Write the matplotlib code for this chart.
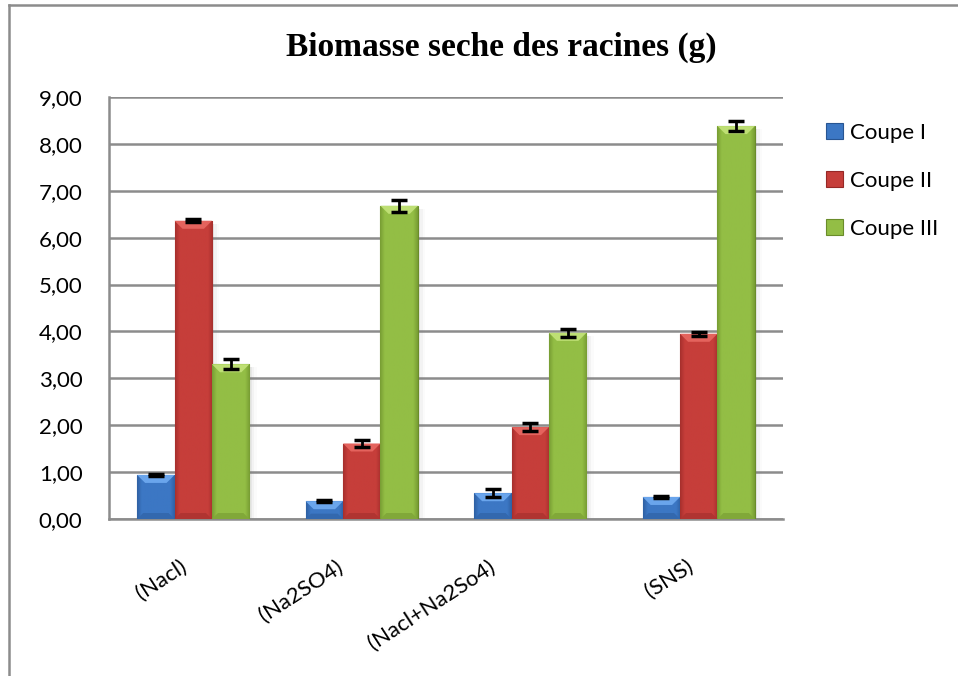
import numpy as np
import matplotlib
matplotlib.use("Agg")
import matplotlib.pyplot as plt
import matplotlib.transforms as mtransforms
from matplotlib.patches import Patch, Polygon
from matplotlib.lines import Line2D
from matplotlib.colors import to_rgb

# ---------------- data ----------------
categories = ["(Nacl)", "(Na2SO4)", "(Nacl+Na2So4)", "(SNS)"]
series_names = ["Coupe I", "Coupe II", "Coupe III"]
coupe1 = [0.94, 0.38, 0.55, 0.47]
coupe2 = [6.36, 1.61, 1.96, 3.95]
coupe3 = [3.30, 6.68, 3.97, 8.38]
err1 = [0.02, 0.02, 0.08, 0.02]
err2 = [0.03, 0.07, 0.08, 0.04]
err3 = [0.11, 0.13, 0.09, 0.10]
yticks = [0, 1, 2, 3, 4, 5, 6, 7, 8, 9]
title = "Biomasse seche des racines (g)"

# ---------------- style ----------------
main_cols = ["#3C77C4", "#C63E3A", "#93BE45"]
top_cols = ["#6AA5EC", "#E4635D", "#BEDF74"]
dark_cols = ["#285592", "#962826", "#6A8C2A"]
grid_col = "#8C8C8C"

W, H = 958, 676
fig = plt.figure(figsize=(W / 100, H / 100), dpi=100)
ax = fig.add_axes([109 / W, 1 - 519 / H, (783 - 109) / W, (519 - 97) / H])

x = np.arange(len(categories))
bw = 0.222
values = [coupe1, coupe2, coupe3]
errors = [err1, err2, err3]

ax.set_xlim(-0.5, len(categories) - 0.5)
ax.set_ylim(0, 9)

# px -> data conversions
px_x = (len(categories)) / (783 - 109)
px_y = 9 / (519 - 97)


def mix(c, other, t):
    a = np.array(to_rgb(c)); b = np.array(to_rgb(other))
    return tuple(a * (1 - t) + b * t)


for i, (vals, errs) in enumerate(zip(values, errors)):
    cont = ax.bar(x + (i - 1) * bw, vals, bw, color=main_cols[i],
                  edgecolor=dark_cols[i], linewidth=0.8, zorder=3,
                  label=series_names[i])
    for p in cont.patches:
        x0, y0 = p.get_x(), p.get_y()
        w, h = p.get_width(), p.get_height()
        # soft shadow to the right
        for k, a in enumerate([0.10, 0.06, 0.03]):
            ax.add_patch(plt.Rectangle((x0 + w, y0), (k + 1) * 2.5 * px_x,
                                       h - 3 * px_y, color="#808080", alpha=a,
                                       lw=0, zorder=2))
        # horizontal gradient (dark edges, lighter centre)
        n = 64
        t = np.linspace(0, 1, n)
        prof = np.clip(np.minimum(t, 1 - t) / 0.12, 0, 1)
        img = np.zeros((1, n, 3))
        for j in range(n):
            img[0, j] = mix(dark_cols[i], main_cols[i], 0.35 + 0.65 * prof[j])
        im = ax.imshow(img, extent=(x0, x0 + w, y0, y0 + h), aspect="auto",
                       zorder=3.1, interpolation="bilinear")
        im.set_clip_path(p)
        # top bevel (lighter trapezoid)
        bh = min(8 * px_y, h * 0.45)
        inset = min(bh / px_y, w / px_x / 2 - 2) * px_x
        ax.add_patch(Polygon([(x0, h), (x0 + w, h), (x0 + w - inset, h - bh),
                              (x0 + inset, h - bh)], closed=True,
                             color=top_cols[i], lw=0, zorder=3.2))
        # bottom bevel (darker band)
        bb = min(6 * px_y, h * 0.3)
        ins2 = bb / px_y * px_x
        ax.add_patch(Polygon([(x0, 0), (x0 + w, 0), (x0 + w - ins2, bb),
                              (x0 + ins2, bb)], closed=True,
                             color=mix(main_cols[i], dark_cols[i], 0.45),
                             lw=0, zorder=3.2))
    ax.errorbar(x + (i - 1) * bw, vals, yerr=errs, fmt="none", ecolor="black",
                elinewidth=2, capsize=5.5, capthick=2.5, zorder=5)

# axes styling
ax.set_yticks(yticks)
ax.set_yticklabels([f"{v:.2f}".replace(".", ",") for v in yticks])
ax.yaxis.grid(True, color=grid_col, linewidth=1.8, zorder=0)
ax.set_axisbelow(True)
for s in ["top", "right"]:
    ax.spines[s].set_visible(False)
for s in ["left", "bottom"]:
    ax.spines[s].set_color(grid_col)
    ax.spines[s].set_linewidth(1.8)
ax.tick_params(axis="both", length=0)
ax.tick_params(axis="y", pad=19, labelsize=16)
for lab in ax.get_yticklabels():
    lab.set_fontfamily("Lato")

ax.set_xticks(x)
ax.set_xticklabels(categories, rotation=33, ha="right", va="top",
                   fontfamily="Lato", fontsize=16)
ax.tick_params(axis="x", pad=27)

# Excel-like placement of rotated labels: shift depends on label extent
fig.canvas.draw()
renderer = fig.canvas.get_renderer()
for lab in ax.get_xticklabels():
    wpx = lab.get_window_extent(renderer).width
    dx = 19 - 0.375 * wpx
    lab.set_transform(lab.get_transform() +
                      mtransforms.ScaledTranslation(dx / 100, 0,
                                                    fig.dpi_scale_trans))

# title
fig.text(501 / W, 1 - 47 / H, title, ha="center", va="center",
         fontfamily="Liberation Serif", fontweight="bold", fontsize=24)

# legend
handles = [Patch(facecolor=main_cols[i], edgecolor=dark_cols[i], lw=0.8)
           for i in range(3)]
fig.legend(handles, series_names, loc="upper left",
           bbox_to_anchor=(826 / W, 1 - 123 / H), frameon=False,
           prop={"family": "Lato", "size": 16}, handlelength=0.75,
           handleheight=0.75, handletextpad=0.35, labelspacing=1.25,
           borderpad=0, borderaxespad=0)

# outer chart frame (only top and left visible)
fig.add_artist(Line2D([9 / W, 1], [1 - 5 / H, 1 - 5 / H], color=grid_col,
                      lw=1.8, transform=fig.transFigure))
fig.add_artist(Line2D([9 / W, 9 / W], [0, 1 - 5 / H], color=grid_col,
                      lw=1.8, transform=fig.transFigure))

fig.savefig("out.png", dpi=100)
